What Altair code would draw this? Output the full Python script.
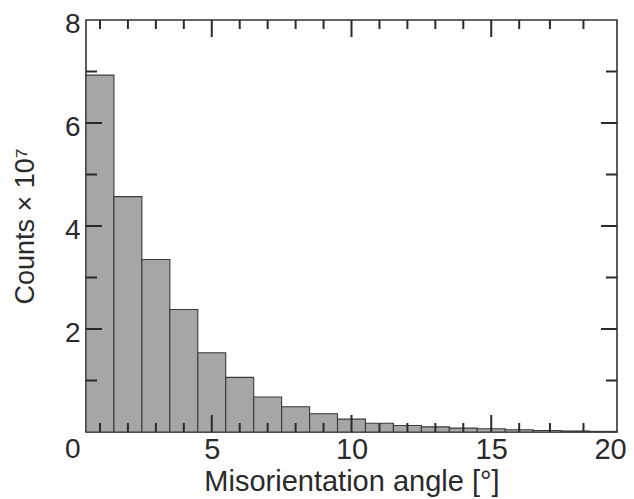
import altair as alt
import pandas as pd

# ---- data ----
angle_centers = list(range(1, 20))          # bar centres (degrees)
counts_1e7 = [6.93, 4.57, 3.35, 2.38, 1.54, 1.06, 0.68, 0.49, 0.355, 0.25,
              0.17, 0.127, 0.10, 0.076, 0.063, 0.044, 0.03, 0.02, 0.012]
bin_width = 1.0

x_domain = [0.5, 19.5]
y_domain = [0, 8]
x_label_values = [5, 10, 15, 19.5]
x_label_texts = ["5", "10", "15", "20"]
x_major_ticks = [5, 10, 15]
x_minor_ticks = [1, 2, 3, 4, 6, 7, 8, 9, 11, 12, 13, 14, 16, 17.1, 18.3]
y_label_values = [0, 2, 4, 6, 8]
y_major_ticks = [2, 4, 6]
y_minor_ticks = [1, 3, 5, 7]

df = pd.DataFrame({
    "lo": [c - bin_width / 2 for c in angle_centers],
    "hi": [c + bin_width / 2 for c in angle_centers],
    "count": counts_1e7,
})

W, H = 531, 412
FONT = "Liberation Sans"
INK = "#2a2a2a"

label_expr = "".join(
    f"datum.value == {v} ? '{t}' : " for v, t in zip(x_label_values, x_label_texts)
) + "''"

xs = alt.Scale(domain=x_domain, nice=False, zero=False)
ys = alt.Scale(domain=y_domain, nice=False)

x_axis = alt.Axis(
    orient="bottom", values=x_label_values, labelExpr=label_expr,
    ticks=False, tickSize=0, domain=False, grid=False,
    labelFontSize=29, labelPadding=3, labelFlush=False, labelOverlap=False,
    labelOffset={"condition": {"test": "datum.value > 19", "value": -7}, "value": 0},
    labelColor=INK, labelFont=FONT,
    title="Misorientation angle [°]", titleFontSize=29, titleFont=FONT,
    titleFontWeight="normal", titleColor=INK, titlePadding=3)

y_axis = alt.Axis(
    orient="left", values=y_label_values, format="d",
    ticks=False, tickSize=0, domain=False, grid=False,
    labelFontSize=28, labelPadding=6, labelOverlap=False,
    labelOffset={"condition": {"test": "datum.value === 0", "value": 17},
                 "value": 4},
    labelColor=INK, labelFont=FONT,
    title="Counts × 10⁷", titleFontSize=27, titleFont=FONT,
    titleFontWeight="normal", titleColor=INK, titlePadding=25)

bars = alt.Chart(df).mark_bar(fill="#a6a6a6", stroke="#3a3a3a", strokeWidth=1.1).encode(
    x=alt.X("lo:Q", scale=xs, axis=x_axis),
    x2="hi:Q",
    y=alt.Y("count:Q", scale=ys, axis=y_axis),
    y2=alt.datum(0),
)


def x_edge_ticks(values, edge, length, sign):
    d = pd.DataFrame({"v": values})
    return alt.Chart(d).mark_tick(
        orient="vertical", size=length, thickness=2, color=INK, opacity=1,
        yOffset=sign * length / 2,
    ).encode(
        x=alt.X("v:Q", scale=xs, axis=x_axis),
        y=alt.YDatum(edge, scale=ys, axis=y_axis),
    )


def y_edge_ticks(values, edge, length, sign):
    d = pd.DataFrame({"v": values})
    return alt.Chart(d).mark_tick(
        orient="horizontal", size=length, thickness=2, color=INK, opacity=1,
        xOffset=sign * length / 2,
    ).encode(
        y=alt.Y("v:Q", scale=ys, axis=y_axis),
        x=alt.XDatum(edge, scale=xs, axis=x_axis),
    )


tick_layers = [
    x_edge_ticks(x_major_ticks, y_domain[0], 17, -1),
    x_edge_ticks(x_minor_ticks, y_domain[0], 9, -1),
    x_edge_ticks(x_major_ticks, y_domain[1], 17, 1),
    x_edge_ticks(x_minor_ticks, y_domain[1], 9, 1),
    y_edge_ticks(y_major_ticks, x_domain[0], 16, 1),
    y_edge_ticks(y_minor_ticks, x_domain[0], 11, 1),
    y_edge_ticks(y_major_ticks, x_domain[1], 16, -1),
    y_edge_ticks(y_minor_ticks, x_domain[1], 11, -1),
]

chart = alt.layer(bars, *tick_layers).properties(
    width=W, height=H,
    autosize=alt.AutoSizeParams(type="none"),
    padding={"left": 78, "top": 12, "right": 9, "bottom": 66},
    background="white",
).configure_view(
    stroke="#333333", strokeWidth=1.6
)

chart.save("out.html", embed_options={"renderer": "svg", "actions": False})
